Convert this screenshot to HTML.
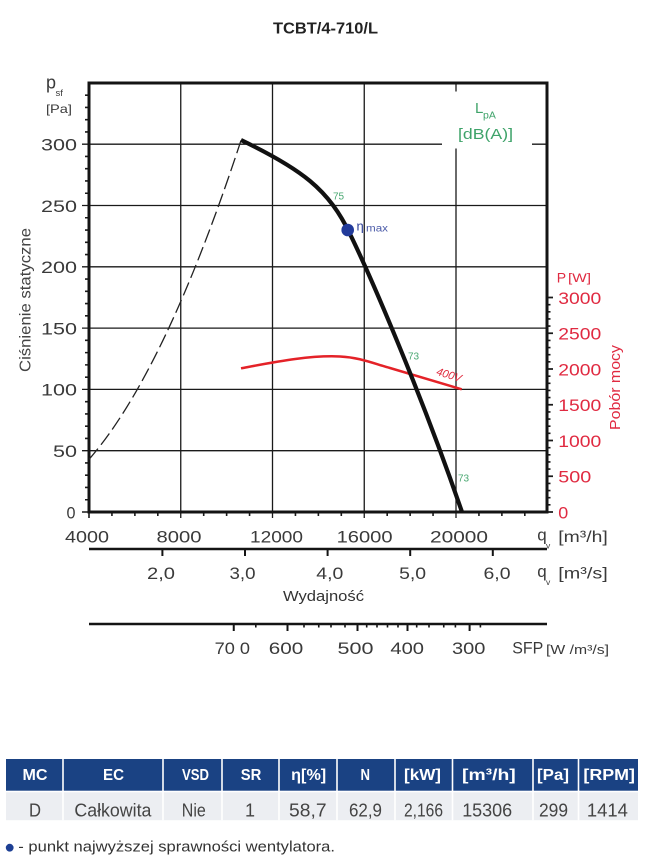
<!DOCTYPE html>
<html><head><meta charset="utf-8"><style>
html,body{margin:0;padding:0;background:#fff;}
svg{display:block;}
</style></head><body>
<svg width="645" height="867" viewBox="0 0 645 867" xmlns="http://www.w3.org/2000/svg" font-family="'Liberation Sans', sans-serif">
<rect width="645" height="867" fill="#fff"/>
<!-- title -->
<text x="273" y="33.3" font-size="16" font-weight="bold" fill="#222" textLength="105" lengthAdjust="spacingAndGlyphs">TCBT/4-710/L</text>

<!-- grid -->
<g stroke="#1a1a1a" stroke-width="1.3" fill="none">
<path d="M82,144.2H547M82,205.5H547M82,266.8H547M82,328.1H547M82,389.4H547M82,450.7H547"/>
<path d="M180.75,83V518M272.5,83V518M364.25,83V518M456,83V518"/>
</g>
<!-- legend white box -->
<rect x="442" y="91.5" width="90" height="57" fill="#fff"/>
<!-- left minor ticks -->
<path stroke="#1a1a1a" stroke-width="1.6" fill="none" d="M85,499.74H89M85,487.48H89M85,475.22H89M85,462.96H89M85,438.44H89M85,426.18H89M85,413.92H89M85,401.66H89M85,377.14H89M85,364.88H89M85,352.62H89M85,340.36H89M85,315.84H89M85,303.58H89M85,291.32H89M85,279.06H89M85,254.54H89M85,242.28H89M85,230.02H89M85,217.76H89M85,193.24H89M85,180.98H89M85,168.72H89M85,156.46H89M85,131.94H89M85,119.68H89M85,107.42H89M85,95.16H89M82,512H89"/>
<!-- bottom minor ticks -->
<path stroke="#1a1a1a" stroke-width="1.6" fill="none" d="M111.94,512V516M134.88,512V516M157.81,512V516M203.69,512V516M226.63,512V516M249.56,512V516M295.44,512V516M318.38,512V516M341.31,512V516M387.19,512V516M410.13,512V516M433.06,512V516M478.94,512V516M501.88,512V516M524.81,512V516M89,512V518"/>
<!-- right ticks -->
<path stroke="#1a1a1a" stroke-width="1.6" fill="none" d="M547,504.85H550.5M547,497.7H550.5M547,490.55H550.5M547,483.4H550.5M547,469.1H550.5M547,461.95H550.5M547,454.8H550.5M547,447.65H550.5M547,433.35H550.5M547,426.2H550.5M547,419.05H550.5M547,411.9H550.5M547,397.6H550.5M547,390.45H550.5M547,383.3H550.5M547,376.15H550.5M547,361.85H550.5M547,354.7H550.5M547,347.55H550.5M547,340.4H550.5M547,326.1H550.5M547,318.95H550.5M547,311.8H550.5M547,304.65H550.5"/>
<path stroke="#1a1a1a" stroke-width="1.8" fill="none" d="M547,512H553M547,476.25H553M547,440.5H553M547,404.75H553M547,369H553M547,333.25H553M547,297.5H553"/>
<!-- frame -->
<rect x="89" y="83" width="458" height="429" fill="none" stroke="#141414" stroke-width="3"/>

<!-- dashed system curve -->
<path d="M89,459.4 Q165,372.2 241,140.4" fill="none" stroke="#222" stroke-width="1.3" stroke-dasharray="14 5"/>
<!-- red power curve -->
<path d="M241,368.3 C275,362 310,355 340,356.5 C360,357.5 372,363 390,368 L461.7,389.3" fill="none" stroke="#e42228" stroke-width="2.5" stroke-linejoin="round"/>
<!-- main fan curve -->
<path d="M241,140 C268,153 292,166 310,181 C328,196 340,213 350,234 C370,275 420,390 462,512" fill="none" stroke="#111" stroke-width="4.2" stroke-linejoin="round" stroke-linecap="butt"/>
<!-- eta max dot -->
<circle cx="347.7" cy="230" r="6.3" fill="#213a9a"/>
<text x="356.5" y="230.5" font-size="13" fill="#2d3f97">η</text>
<text x="366" y="231.5" font-size="10" fill="#4a5aa8" textLength="22" lengthAdjust="spacingAndGlyphs">max</text>

<!-- green labels -->
<g font-size="10" fill="#4aa872">
<text x="338.5" y="199.5" text-anchor="middle">75</text>
<text x="413.5" y="359.5" text-anchor="middle">73</text>
<text x="463.5" y="481.5" text-anchor="middle">73</text>
</g>
<!-- 400V -->
<text transform="translate(449,375) rotate(17)" x="0" y="3.5" font-size="11" font-style="italic" fill="#e0283c" text-anchor="middle">400V</text>

<!-- legend -->
<text x="475" y="113" font-size="15" fill="#3fa36a">L</text>
<text x="483" y="118.5" font-size="10.5" fill="#3fa36a">pA</text>
<text x="458" y="139" font-size="15" fill="#3fa36a" textLength="55" lengthAdjust="spacingAndGlyphs">[dB(A)]</text>

<!-- left axis labels -->
<g font-size="17" fill="#3a3a3a" text-anchor="end">
<text x="77" y="150.5" textLength="36" lengthAdjust="spacingAndGlyphs">300</text>
<text x="77" y="211.8" textLength="36" lengthAdjust="spacingAndGlyphs">250</text>
<text x="77" y="273.1" textLength="36" lengthAdjust="spacingAndGlyphs">200</text>
<text x="77" y="334.4" textLength="36" lengthAdjust="spacingAndGlyphs">150</text>
<text x="77" y="395.7" textLength="36" lengthAdjust="spacingAndGlyphs">100</text>
<text x="77" y="457" textLength="24" lengthAdjust="spacingAndGlyphs">50</text>
<text x="75.5" y="518.3" textLength="9" lengthAdjust="spacingAndGlyphs">0</text>
</g>
<text x="46" y="88.5" font-size="18" fill="#3a3a3a">p</text>
<text x="55.5" y="96" font-size="9.5" fill="#3a3a3a">sf</text>
<text x="46" y="113" font-size="12" fill="#3a3a3a" textLength="26" lengthAdjust="spacingAndGlyphs">[Pa]</text>
<text transform="translate(30.5,300) rotate(-90)" font-size="16" fill="#444" text-anchor="middle" textLength="144" lengthAdjust="spacingAndGlyphs">Ciśnienie statyczne</text>

<!-- right axis labels -->
<g font-size="17" fill="#e02a41">
<text x="558.3" y="303.8" textLength="43" lengthAdjust="spacingAndGlyphs">3000</text>
<text x="558.3" y="339.5" textLength="43" lengthAdjust="spacingAndGlyphs">2500</text>
<text x="558.3" y="375.3" textLength="43" lengthAdjust="spacingAndGlyphs">2000</text>
<text x="558.3" y="411" textLength="43" lengthAdjust="spacingAndGlyphs">1500</text>
<text x="558.3" y="446.8" textLength="43" lengthAdjust="spacingAndGlyphs">1000</text>
<text x="558.3" y="482.5" textLength="33" lengthAdjust="spacingAndGlyphs">500</text>
<text x="558.3" y="518.3" textLength="10" lengthAdjust="spacingAndGlyphs">0</text>
</g>
<text x="556.7" y="282.7" font-size="14" fill="#e02a41">P</text>
<text x="568" y="282" font-size="11.5" fill="#e02a41" textLength="23" lengthAdjust="spacingAndGlyphs">[W]</text>
<text transform="translate(620,387.5) rotate(-90)" font-size="15" fill="#e02a41" text-anchor="middle" textLength="85" lengthAdjust="spacingAndGlyphs">Pobór mocy</text>

<!-- bottom m3/h labels -->
<g font-size="17" fill="#3a3a3a" text-anchor="middle">
<text x="87" y="542.3" textLength="44" lengthAdjust="spacingAndGlyphs">4000</text>
<text x="179" y="542.3" textLength="45" lengthAdjust="spacingAndGlyphs">8000</text>
<text x="276.5" y="542.3" textLength="53" lengthAdjust="spacingAndGlyphs">12000</text>
<text x="364.6" y="542.3" textLength="56" lengthAdjust="spacingAndGlyphs">16000</text>
<text x="459" y="542.3" textLength="58" lengthAdjust="spacingAndGlyphs">20000</text>
</g>
<text x="537.3" y="540.7" font-size="17" fill="#3a3a3a">q</text>
<text x="546" y="548.5" font-size="8.5" fill="#3a3a3a">v</text>
<text x="558.3" y="542" font-size="16" fill="#3a3a3a" textLength="49.5" lengthAdjust="spacingAndGlyphs">[m³/h]</text>

<!-- m3/s axis -->
<path d="M89,549H547" stroke="#141414" stroke-width="2.6"/>
<path d="M162.4,549V556M245,549V556M327.6,549V556M410.2,549V556M492.8,549V556" stroke="#141414" stroke-width="2"/>
<g font-size="17" fill="#3a3a3a" text-anchor="middle">
<text x="161" y="579.2" textLength="28" lengthAdjust="spacingAndGlyphs">2,0</text>
<text x="242.5" y="579.2" textLength="26" lengthAdjust="spacingAndGlyphs">3,0</text>
<text x="329.8" y="579.2" textLength="27" lengthAdjust="spacingAndGlyphs">4,0</text>
<text x="412.6" y="579.2" textLength="27" lengthAdjust="spacingAndGlyphs">5,0</text>
<text x="497" y="579.2" textLength="27" lengthAdjust="spacingAndGlyphs">6,0</text>
</g>
<text x="537.3" y="577.2" font-size="17" fill="#3a3a3a">q</text>
<text x="546" y="585" font-size="8.5" fill="#3a3a3a">v</text>
<text x="558.3" y="578.5" font-size="16" fill="#3a3a3a" textLength="49.5" lengthAdjust="spacingAndGlyphs">[m³/s]</text>
<text x="283" y="601" font-size="15" fill="#333" textLength="81" lengthAdjust="spacingAndGlyphs">Wydajność</text>

<!-- SFP axis -->
<path d="M89,624H547" stroke="#141414" stroke-width="2.6"/>
<path d="M233.75,624V631M287.5,624V631M357.5,624V631M407.5,624V631M469.6,624V631" stroke="#141414" stroke-width="2"/>
<path d="M255.8,624V627.5M304,624V627.5M318.75,624V627.5M331,624V627.5M345,624V627.5M366.7,624V627.5M377,624V627.5M387.5,624V627.5M398,624V627.5M416.7,624V627.5M429,624V627.5M443.75,624V627.5M455.4,624V627.5M480.4,624V627.5" stroke="#141414" stroke-width="1.6"/>
<g font-size="17" fill="#3a3a3a">
<text x="214.6" y="654" textLength="35.4" lengthAdjust="spacingAndGlyphs">70 0</text>
<text x="268.8" y="654" textLength="34.5" lengthAdjust="spacingAndGlyphs">600</text>
<text x="337.5" y="654" textLength="36" lengthAdjust="spacingAndGlyphs">500</text>
<text x="390.4" y="654" textLength="33.6" lengthAdjust="spacingAndGlyphs">400</text>
<text x="452" y="654" textLength="33.4" lengthAdjust="spacingAndGlyphs">300</text>
<text x="512.3" y="653.5" textLength="31" lengthAdjust="spacingAndGlyphs">SFP</text>
</g>
<text x="546" y="654" font-size="13" fill="#3a3a3a" textLength="63" lengthAdjust="spacingAndGlyphs">[W /m³/s]</text>

<!-- table -->
<rect x="6" y="759" width="632" height="31.7" fill="#1a4283"/>
<rect x="6" y="792.3" width="632" height="27.9" fill="#eceef2"/>
<path d="M63,759V820.2M163,759V820.2M222,759V820.2M279,759V820.2M337,759V820.2M395,759V820.2M452.5,759V820.2M533,759V820.2M578.5,759V820.2" stroke="#fff" stroke-width="1.6"/>
<g font-size="16" font-weight="bold" fill="#fff" text-anchor="middle">
<text x="35" y="780" textLength="25" lengthAdjust="spacingAndGlyphs">MC</text>
<text x="113.5" y="780" textLength="21" lengthAdjust="spacingAndGlyphs">EC</text>
<text x="195.5" y="780" textLength="27" lengthAdjust="spacingAndGlyphs">VSD</text>
<text x="251" y="780" textLength="20.6" lengthAdjust="spacingAndGlyphs">SR</text>
<text x="308.7" y="780" textLength="35" lengthAdjust="spacingAndGlyphs">η[%]</text>
<text x="365.3" y="780" textLength="9.5" lengthAdjust="spacingAndGlyphs">N</text>
<text x="422.5" y="780" textLength="37" lengthAdjust="spacingAndGlyphs">[kW]</text>
<text x="488.9" y="780" textLength="53.7" lengthAdjust="spacingAndGlyphs">[m³/h]</text>
<text x="553" y="780" textLength="32" lengthAdjust="spacingAndGlyphs">[Pa]</text>
<text x="609.2" y="780" textLength="51.6" lengthAdjust="spacingAndGlyphs">[RPM]</text>
</g>
<g font-size="18" fill="#444" text-anchor="middle">
<text x="35" y="816.5" textLength="12" lengthAdjust="spacingAndGlyphs">D</text>
<text x="112.9" y="816.5" textLength="77" lengthAdjust="spacingAndGlyphs">Całkowita</text>
<text x="193.8" y="816.5" textLength="24" lengthAdjust="spacingAndGlyphs">Nie</text>
<text x="250" y="816.5">1</text>
<text x="307.8" y="816.5" textLength="37.5" lengthAdjust="spacingAndGlyphs">58,7</text>
<text x="365.5" y="816.5" textLength="33" lengthAdjust="spacingAndGlyphs">62,9</text>
<text x="423.5" y="816.5" textLength="39" lengthAdjust="spacingAndGlyphs">2,166</text>
<text x="487.2" y="816.5" textLength="50" lengthAdjust="spacingAndGlyphs">15306</text>
<text x="553.5" y="816.5" textLength="29" lengthAdjust="spacingAndGlyphs">299</text>
<text x="607.4" y="816.5" textLength="41" lengthAdjust="spacingAndGlyphs">1414</text>
</g>
<!-- note -->
<circle cx="9.7" cy="847.7" r="3.9" fill="#1d3f94"/>
<text x="18.3" y="851.5" font-size="15" fill="#333" textLength="316.7" lengthAdjust="spacingAndGlyphs">- punkt najwyższej sprawności wentylatora.</text>
</svg>
</body></html>
